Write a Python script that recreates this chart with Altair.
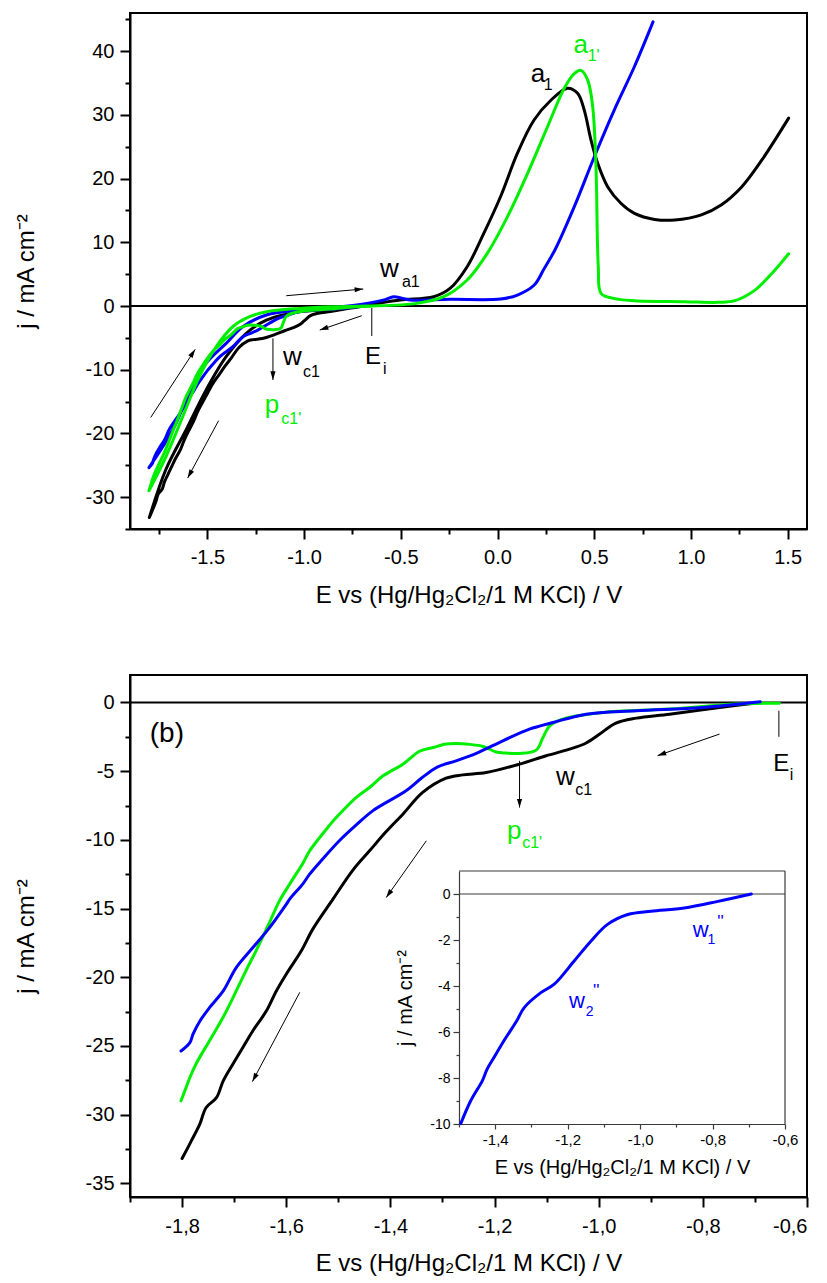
import math
import altair as alt
import pandas as pd

FONT = "Liberation Sans"
C_BLACK, C_GREEN, C_BLUE = "#000000", "#00ee00", "#0000ff"
X_TITLE = "E vs (Hg/Hg\u2082Cl\u2082/1 M KCl) / V"
Y_TITLE = "j / mA cm\u207b\u00b2"
MINUS = "\u2212"

# ---------------- data: cathodic sweeps (E_i -> -1.8 V), shared by (a) and (b) ----------------
E_CATH_BLACK = [-0.69, -0.768, -0.864, -0.928, -0.967, -0.998, -1.024, -1.056, -1.101, -1.152,
                -1.216, -1.261, -1.293, -1.338, -1.376, -1.408, -1.44, -1.472, -1.51, -1.549,
                -1.571, -1.6, -1.619, -1.638, -1.664, -1.683, -1.702, -1.721, -1.734, -1.754,
                -1.766, -1.782, -1.8]
J_CATH_BLACK = [0.0, -0.36, -0.85, -1.14, -1.50, -2.30, -2.95, -3.40, -3.88, -4.49,
                -5.10, -5.27, -5.51, -6.55, -8.13, -9.4, -10.8, -12.2, -14.3, -16.5,
                -18.08, -19.78, -21.0, -22.45, -23.9, -25.1, -26.3, -27.55, -28.77, -29.5,
                -30.7, -31.9, -33.2]

E_CATH_GREEN = [-0.653, -0.736, -0.864, -0.992, -1.069, -1.094, -1.107, -1.12, -1.152, -1.178,
                -1.197, -1.222, -1.248, -1.274, -1.293, -1.318, -1.344, -1.363, -1.376, -1.414,
                -1.44, -1.466, -1.504, -1.517, -1.555, -1.568, -1.593, -1.613, -1.632, -1.658,
                -1.677, -1.696, -1.721, -1.747, -1.773, -1.785, -1.792, -1.802]
J_CATH_GREEN = [-0.05, -0.12, -0.48, -0.73, -1.21, -1.70, -2.55, -3.47, -3.71, -3.68,
                -3.6, -3.2, -3.05, -2.98, -3.03, -3.28, -3.55, -4.1, -4.49, -5.34,
                -6.19, -6.92, -8.38, -8.95, -10.8, -11.7, -13.2, -14.44, -16.0, -18.08,
                -19.5, -21.0, -22.9, -24.6, -26.3, -27.3, -28.0, -29.0]

E_CATH_BLUE = [-0.69, -0.80, -0.928, -1.024, -1.088, -1.133, -1.184, -1.235, -1.274, -1.31,
               -1.34, -1.37, -1.434, -1.465, -1.498, -1.53, -1.555, -1.568, -1.593, -1.6,
               -1.632, -1.664, -1.696, -1.721, -1.747, -1.766, -1.779, -1.785, -1.802]
J_CATH_BLUE = [0.05, -0.36, -0.6, -0.85, -1.46, -1.94, -2.79, -3.7, -4.25, -4.7,
               -5.5, -6.43, -7.89, -8.9, -10.07, -11.4, -12.5, -13.2, -14.3, -14.7,
               -16.39, -17.84, -19.3, -21.0, -22.2, -23.2, -24.15, -24.76, -25.37]

# ---------------- data: anodic sweeps (-1.8 V -> upper limit), panel (a) ----------------
E_AN_BLACK = [-1.8, -1.715, -1.611, -1.507, -1.403, -1.299, -1.195, -1.023, -0.85, -0.676,
              -0.503, -0.33, -0.244, -0.157, -0.071, 0.016, 0.103, 0.189, 0.276, 0.362,
              0.414, 0.448, 0.483, 0.518, 0.570, 0.639, 0.708, 0.812, 0.916, 1.054,
              1.158, 1.262, 1.366, 1.505]
J_AN_BLACK = [-33.2, -25.7, -19.5, -13.2, -7.96, -4.29, -2.2, -0.89, -0.52, 0.16,
              0.94, 1.46, 2.8, 6.17, 11.4, 17.2, 24.0, 29.2, 32.3, 34.2,
              33.4, 30.8, 26.1, 22.4, 18.7, 16.1, 14.55, 13.6, 13.5, 14.3,
              15.9, 18.7, 22.9, 29.5]

E_AN_GREEN = [-1.802, -1.715, -1.628, -1.542, -1.455, -1.369, -1.282, -1.195, -1.023, -0.85,
              -0.676, -0.417, -0.278, -0.157, -0.053, 0.051, 0.155, 0.258, 0.345, 0.397,
              0.431, 0.466, 0.492, 0.509, 0.521, 0.535, 0.60, 0.708, 0.968, 1.141,
              1.227, 1.331, 1.418, 1.505]
J_AN_GREEN = [-29.0, -23.7, -17.4, -11.1, -6.4, -3.25, -1.68, -0.89, -0.37, -0.1,
              0.0, 0.42, 1.46, 4.08, 8.27, 14.0, 20.8, 28.1, 34.2, 36.5,
              37.0, 35.5, 31.3, 21.9, 6.2, 2.0, 1.2, 0.84, 0.68, 0.58,
              0.84, 2.5, 5.1, 8.2]

E_AN_BLUE = [-1.802, -1.680, -1.594, -1.507, -1.403, -1.317, -1.195, -1.023, -0.85, -0.676,
             -0.58, -0.538, -0.49, -0.451, -0.244, 0.016, 0.103, 0.19, 0.24, 0.30,
             0.397, 0.50, 0.604, 0.708, 0.804]
J_AN_BLUE = [-25.37, -19.5, -13.7, -9.0, -5.86, -3.25, -1.41, -0.63, -0.21, 0.42,
             1.0, 1.46, 1.2, 0.94, 1.05, 1.10, 1.73, 3.3, 5.8, 9.0,
             15.6, 23.4, 30.8, 37.6, 44.6]

# ---------------- data: inset (blue, cathodic) ----------------
E_INSET = [-0.693, -0.785, -0.878, -0.97, -1.034, -1.09, -1.136, -1.182, -1.237, -1.274,
           -1.32, -1.34, -1.376, -1.403, -1.422, -1.435, -1.468, -1.495]
J_INSET = [0.0, -0.32, -0.61, -0.75, -0.89, -1.32, -2.05, -2.91, -3.92, -4.29,
           -4.94, -5.5, -6.38, -7.1, -7.6, -8.1, -9.0, -9.98]

# ---------------- annotations ----------------
TOP_LABELS = ["a", "1", "a", "1'", "w", "a1", "w", "c1", "p", "c1'", "E", "i"]
TOP_LABEL_E = [0.172, 0.239, 0.393, 0.466, -0.607, -0.494, -1.109, -1.005, -1.204, -1.118, -0.685, -0.592]
TOP_LABEL_J = [35.2, 33.9, 39.7, 38.4, 4.5, 3.0, -9.26, -11.1, -16.85, -18.5, -9.1, -10.7]
TOP_LABEL_SIZE = [26, 16, 26, 16, 26, 16, 26, 16, 26, 16, 24, 16]
TOP_LABEL_COLOR = [C_BLACK, C_BLACK, C_GREEN, C_GREEN, C_BLACK, C_BLACK, C_BLACK, C_BLACK,
                   C_GREEN, C_GREEN, C_BLACK, C_BLACK]

BOT_LABELS = ["(b)", "w", "c1", "p", "c1'", "E", "i"]
BOT_LABEL_E = [-1.862, -1.082, -1.045, -1.176, -1.147, -0.665, -0.633]
BOT_LABEL_J = [-2.91, -5.99, -6.72, -9.95, -10.6, -4.97, -5.63]
BOT_LABEL_SIZE = [28, 26, 16, 26, 16, 24, 16]
BOT_LABEL_COLOR = [C_BLACK, C_BLACK, C_BLACK, C_GREEN, C_GREEN, C_BLACK, C_BLACK]

INS_LABELS = ["w", "1", "''", "w", "2", "''"]
INS_LABEL_E = [-0.8545, -0.814, -0.787, -1.196, -1.150, -1.130]
INS_LABEL_J = [-1.87, -2.18, -1.45, -4.94, -5.29, -4.45]
INS_LABEL_SIZE = [22, 14, 17, 22, 14, 17]

TOP_ARROW_E = [-1.092, -0.702, -1.161, -1.793, -1.442]
TOP_ARROW_J = [1.62, -1.52, -5.07, -17.5, -18.0]
TOP_ARROW_E2 = [-0.694, -0.919, -1.161, -1.563, -1.602]
TOP_ARROW_J2 = [2.67, -3.77, -11.6, -6.8, -27.0]

BOT_ARROW_E = [-0.768, -1.152, -1.331, -1.574]
BOT_ARROW_J = [-2.3, -4.25, -10.07, -21.1]
BOT_ARROW_E2 = [-0.887, -1.152, -1.408, -1.665]
BOT_ARROW_J2 = [-3.87, -7.65, -14.2, -27.6]

TOP_EI = (-0.65, -0.3, -4.7)
BOT_EI = (-0.654, -0.6, -2.5)

# ---------------- layout ----------------
W1, H1 = 677, 516
W2, H2 = 677, 522
TOP_X, TOP_Y = [-1.9, 1.6], [-35, 46]
BOT_X, BOT_Y = [-1.9, -0.6], [-36, 2]
INS_X, INS_Y = [-1.5, -0.6], [-10, 1]
INS_L, INS_R, INS_T, INS_B = 329, 655, 196, 449

TOP_X_TICKS = [round(-1.75 + 0.25 * k, 2) for k in range(14)]
TOP_Y_TICKS = [-35 + 5 * k for k in range(17)]
BOT_X_TICKS = [round(-1.9 + 0.1 * k, 2) for k in range(14)]
BOT_Y_TICKS = [round(-35 + 2.5 * k, 1) for k in range(15)]
INS_X_TICKS = [round(-1.5 + 0.1 * k, 2) for k in range(10)]
INS_Y_TICKS = list(range(-10, 1))

HEAD = "M0,0L-0.3,1L0.3,1Z"
INTERP = "catmull-rom"


def is_major(step):
    return f"abs(datum.value/{step} - round(datum.value/{step})) < 0.001"


def lbl_expr(step, fmt, comma=False):
    inner = f"replace(format(datum.value, '{fmt}'), '{MINUS}', '-')"
    if comma:
        inner = f"replace({inner}, '.', ',')"
    return f"{is_major(step)} ? {inner} : ''"


def tsize(step, major, minor):
    return {"condition": {"test": is_major(step), "value": major}, "value": minor}


def sc(dom, rng=None):
    if rng is None:
        return alt.Scale(domain=dom, nice=False, zero=False)
    return alt.Scale(domain=dom, range=rng, nice=False, zero=False)


def curve_df(E, J):
    return pd.DataFrame({"E": E, "j": J, "idx": list(range(len(E)))})


def arrows(E, J, E2, J2, w, h, xdom, ydom):
    sx = w / (xdom[1] - xdom[0])
    sy = h / (ydom[1] - ydom[0])
    ang = [math.degrees(math.atan2((b - a) * sx, (d - c) * sy)) % 360
           for a, b, c, d in zip(E, E2, J, J2)]
    return pd.DataFrame({"E": E, "j": J, "E2": E2, "j2": J2, "ang": ang})


def group(curves, labels, arr, ei, sx, sy, ax, ay):
    enc = dict(x=alt.X("E:Q", scale=sx, axis=ax), y=alt.Y("j:Q", scale=sy, axis=ay))
    layers = [
        alt.Chart(pd.DataFrame({"j": [0.0]})).mark_rule(color="black", strokeWidth=2)
        .encode(y=alt.Y("j:Q", scale=sy, axis=ay)),
        alt.Chart(pd.DataFrame({"E": [ei[0]], "j": [ei[1]], "j2": [ei[2]]}))
        .mark_rule(color="black", strokeWidth=1).encode(**enc, y2="j2:Q"),
    ]
    for df, col in curves:
        layers.append(alt.Chart(df).mark_line(color=col, strokeWidth=3, strokeJoin="round",
                                              strokeCap="round", interpolate=INTERP, clip=True)
                      .encode(**enc, order="idx:Q"))
    layers.append(alt.Chart(arr).mark_rule(color="black", strokeWidth=1)
                  .encode(**enc, x2="E2:Q", y2="j2:Q"))
    layers.append(alt.Chart(arr).mark_point(shape=HEAD, filled=True, size=300, color="black",
                                            opacity=1, strokeWidth=0)
                  .encode(x=alt.X("E2:Q", scale=sx, axis=ax), y=alt.Y("j2:Q", scale=sy, axis=ay),
                          angle=alt.Angle("ang:Q", scale=None)))
    layers.append(alt.Chart(labels).mark_text(align="left", baseline="alphabetic", font=FONT)
                  .encode(**enc, text="text:N", size=alt.Size("size:Q", scale=None),
                          color=alt.Color("color:N", scale=None)))
    return layers


# ---------------- panel (a) ----------------
sx_top, sy_top = sc(TOP_X), sc(TOP_Y)
ax_top_x = alt.Axis(values=TOP_X_TICKS, labelExpr=lbl_expr(0.5, ".1f"), tickSize=tsize(0.5, 10, 5),
                    title=X_TITLE, labelPadding=8, titlePadding=16, grid=False,
                    labelFlush=False, labelOverlap=False)
ax_top_y = alt.Axis(values=TOP_Y_TICKS, labelExpr=lbl_expr(10, "d"), tickSize=tsize(10, 10, 5),
                    title=Y_TITLE, labelPadding=6, titlePadding=47, grid=False,
                    labelFlush=False, labelOverlap=False)

top_curves = [
    (curve_df(E_CATH_BLACK + E_AN_BLACK, J_CATH_BLACK + J_AN_BLACK), C_BLACK),
    (curve_df(E_CATH_BLUE + E_AN_BLUE, J_CATH_BLUE + J_AN_BLUE), C_BLUE),
    (curve_df(E_CATH_GREEN + E_AN_GREEN, J_CATH_GREEN + J_AN_GREEN), C_GREEN),
]
top_labels = pd.DataFrame({"E": TOP_LABEL_E, "j": TOP_LABEL_J, "text": TOP_LABELS,
                           "size": TOP_LABEL_SIZE, "color": TOP_LABEL_COLOR})
top_arr = arrows(TOP_ARROW_E, TOP_ARROW_J, TOP_ARROW_E2, TOP_ARROW_J2, W1, H1, TOP_X, TOP_Y)
top = alt.layer(*group(top_curves, top_labels, top_arr, TOP_EI, sx_top, sy_top,
                       ax_top_x, ax_top_y)).properties(width=W1, height=H1)

# ---------------- panel (b) ----------------
sx_bot, sy_bot = sc(BOT_X), sc(BOT_Y)
ax_bot_x = alt.Axis(values=BOT_X_TICKS, labelExpr=lbl_expr(0.2, ".1f", True), tickSize=tsize(0.2, 10, 5),
                    title=X_TITLE, labelPadding=9, titlePadding=15, grid=False,
                    labelFlush=True, labelOverlap=False)
ax_bot_y = alt.Axis(values=BOT_Y_TICKS, labelExpr=lbl_expr(5, "d"), tickSize=tsize(5, 10, 5),
                    title=Y_TITLE, labelPadding=6, titlePadding=47, grid=False,
                    labelFlush=False, labelOverlap=False)
bot_curves = [
    (curve_df(E_CATH_BLACK, J_CATH_BLACK), C_BLACK),
    (curve_df(E_CATH_GREEN, J_CATH_GREEN), C_GREEN),
    (curve_df(E_CATH_BLUE, J_CATH_BLUE), C_BLUE),
]
bot_labels = pd.DataFrame({"E": BOT_LABEL_E, "j": BOT_LABEL_J, "text": BOT_LABELS,
                           "size": BOT_LABEL_SIZE, "color": BOT_LABEL_COLOR})
bot_arr = arrows(BOT_ARROW_E, BOT_ARROW_J, BOT_ARROW_E2, BOT_ARROW_J2, W2, H2, BOT_X, BOT_Y)
bot_main = alt.layer(*group(bot_curves, bot_labels, bot_arr, BOT_EI, sx_bot, sy_bot,
                            ax_bot_x, ax_bot_y))

# ---------------- inset ----------------
sx_ins = sc(INS_X, [INS_L, INS_R])
sy_ins = sc(INS_Y, [INS_B, INS_T])
GREY = "#3a3a3a"
ax_ins_x = alt.Axis(orient="bottom", offset=-(H2 - INS_B), values=INS_X_TICKS,
                    labelExpr=lbl_expr(0.2, ".1f", True), tickSize=tsize(0.2, 5, 3),
                    title=X_TITLE, titleFontSize=20, labelFontSize=15, labelPadding=3,
                    titlePadding=10, domainColor=GREY, domainWidth=1.2, tickColor=GREY,
                    tickWidth=1.2, grid=False, labelFlush=False, labelOverlap=False)
ax_ins_y = alt.Axis(orient="left", offset=-INS_L, values=INS_Y_TICKS,
                    labelExpr=lbl_expr(2, "d"), tickSize=tsize(2, 6, 3),
                    title=Y_TITLE, titleFontSize=20, labelFontSize=14, labelPadding=3,
                    titlePadding=14, domainColor=GREY, domainWidth=1.2, tickColor=GREY,
                    tickWidth=1.2, grid=False, labelFlush=False, labelOverlap=False)
enc_ins = dict(x=alt.X("E:Q", scale=sx_ins, axis=ax_ins_x), y=alt.Y("j:Q", scale=sy_ins, axis=ax_ins_y))
ins_frame = pd.DataFrame({"E": [INS_X[0], INS_X[1], INS_X[0]],
                          "E2": [INS_X[1], INS_X[1], INS_X[1]],
                          "j": [INS_Y[1], INS_Y[0], 0.0],
                          "j2": [INS_Y[1], INS_Y[1], 0.0]})
ins_labels = pd.DataFrame({"E": INS_LABEL_E, "j": INS_LABEL_J, "text": INS_LABELS,
                           "size": INS_LABEL_SIZE})
inset = alt.layer(
    alt.Chart(ins_frame).mark_rule(color=GREY, strokeWidth=1.2).encode(**enc_ins, x2="E2:Q", y2="j2:Q"),
    alt.Chart(curve_df(E_INSET, J_INSET)).mark_line(color=C_BLUE, strokeWidth=3, strokeJoin="round",
                                                   strokeCap="round", interpolate=INTERP, clip=True)
    .encode(**enc_ins, order="idx:Q"),
    alt.Chart(ins_labels).mark_text(align="left", baseline="alphabetic", font=FONT, color=C_BLUE)
    .encode(**enc_ins, text="text:N", size=alt.Size("size:Q", scale=None)),
)

bottom = alt.layer(bot_main, inset).resolve_scale(x="independent", y="independent") \
    .properties(width=W2, height=H2)

chart = alt.vconcat(top, bottom, spacing=66).properties(
    padding={"left": 5, "top": 0, "right": 5, "bottom": 0}
).configure_axis(
    domainColor="black", domainWidth=2, tickColor="black", tickWidth=2,
    labelFont=FONT, labelFontSize=20, labelColor="black",
    titleFont=FONT, titleFontSize=24, titleFontWeight="normal", titleColor="black",
).configure_view(stroke="black", strokeWidth=2)

chart.save("out.html", embed_options={"renderer": "svg", "actions": False})
